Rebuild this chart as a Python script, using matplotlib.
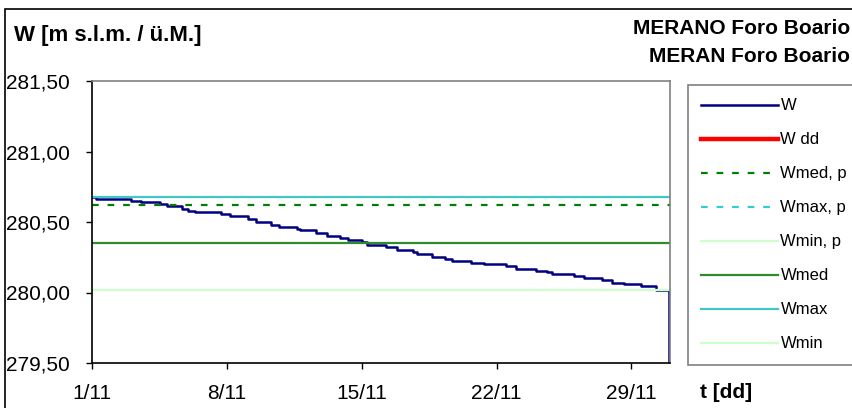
import matplotlib
matplotlib.use("Agg")
import matplotlib.pyplot as plt
from matplotlib.patches import Rectangle

plt.rcParams["font.family"] = ["Liberation Sans", "DejaVu Sans"]

# water level W, time in day-of-month (November), step values
w_time = [1.00, 1.20, 1.57, 3.02, 3.54, 4.53, 4.89, 5.67, 5.98, 6.34, 7.69,
          8.15, 9.09, 9.50, 10.28, 10.69, 11.63, 11.78, 12.61, 13.18, 13.86,
          14.27, 15.00, 15.26, 16.24, 16.81, 17.64, 17.85, 18.63, 19.30,
          19.66, 20.65, 21.37, 22.51, 23.03, 24.07, 24.64, 24.90, 26.04,
          26.56, 27.49, 28.01, 28.63, 29.51, 30.29, 30.97]
w_level = [280.68, 280.665, 280.66, 280.65, 280.64, 280.625, 280.61, 280.595,
           280.58, 280.57, 280.56, 280.54, 280.52, 280.50, 280.48, 280.465,
           280.45, 280.44, 280.42, 280.40, 280.385, 280.37, 280.36, 280.34,
           280.32, 280.30, 280.29, 280.27, 280.255, 280.24, 280.225, 280.21,
           280.205, 280.19, 280.17, 280.155, 280.145, 280.13, 280.115, 280.10,
           280.09, 280.07, 280.06, 280.045, 280.02, 279.00]

# reference levels
w_med_p = 280.62
w_med = 280.35
w_max = 280.68
w_min = 280.02

x_ticks = [1, 8, 15, 22, 29]
x_labels = ["1/11", "8/11", "15/11", "22/11", "29/11"]
y_ticks = [279.5, 280.0, 280.5, 281.0, 281.5]
y_labels = ["279,50", "280,00", "280,50", "281,00", "281,50"]

fig = plt.figure(figsize=(8.53, 4.08), dpi=100)
ax = fig.add_axes([92 / 853, 1 - 363 / 408, 578 / 853, 282 / 408])

ax.step(w_time, w_level, where="post", color="#000080", lw=1.8, label="W")
ax.plot([], [], color="#FF0000", lw=3.2, label="W dd")
ax.axhline(w_med_p, color="#008000", lw=1.6, ls=(0, (3, 4)), label="Wmed, p")
ax.plot([], [], color="#33CCCC", lw=1.6, ls=(0, (3, 4)), label="Wmax, p")
ax.plot([], [], color="#CCFFCC", lw=1.6, label="Wmin, p")
ax.axhline(w_med, color="#2E8B2E", lw=1.6, label="Wmed")
ax.axhline(w_max, color="#40C8C8", lw=1.6, label="Wmax")
ax.axhline(w_min, color="#CCFFCC", lw=1.6, label="Wmin")

ax.set_xlim(1, 31)
ax.set_ylim(279.5, 281.5)
ax.set_xticks(x_ticks)
ax.set_xticklabels(x_labels)
ax.set_yticks(y_ticks)
ax.set_yticklabels(y_labels)
ax.tick_params(axis="both", direction="out", length=4, width=1, labelsize=15)
ax.tick_params(axis="y", pad=12)
ax.tick_params(axis="x", pad=11)

for side in ["left", "bottom"]:
    ax.spines[side].set_color("black")
    ax.spines[side].set_linewidth(1.2)
for side in ["top", "right"]:
    ax.spines[side].set_color("#808080")
    ax.spines[side].set_linewidth(1.2)

leg = fig.legend(loc="upper left", bbox_to_anchor=(688 / 853, 1 - 85 / 408),
                 fontsize=12, frameon=True, fancybox=False, borderaxespad=0,
                 handlelength=4.6, handletextpad=0.15, labelspacing=1.14,
                 borderpad=0.8)
leg.get_frame().set_edgecolor("#606060")
leg.get_frame().set_linewidth(1.2)

fig.text(14 / 853, 1 - 35 / 408, "W [m s.l.m. / ü.M.]", fontsize=16,
         fontweight="bold", ha="left", va="center")
fig.text(850 / 853, 1 - 28 / 408, "MERANO Foro Boario", fontsize=15,
         fontweight="bold", ha="right", va="center")
fig.text(850 / 853, 1 - 57 / 408, "MERAN Foro Boario", fontsize=15,
         fontweight="bold", ha="right", va="center")
fig.text(700 / 853, 1 - 392 / 408, "t [dd]", fontsize=15,
         fontweight="bold", ha="left", va="center")

# chart area border
fig.patches.append(Rectangle((5 / 853, -0.1), 1.2, 1 - 9 / 408 + 0.1,
                             transform=fig.transFigure, fill=False,
                             edgecolor="black", lw=1.2))

fig.savefig("out.png", dpi=100)
